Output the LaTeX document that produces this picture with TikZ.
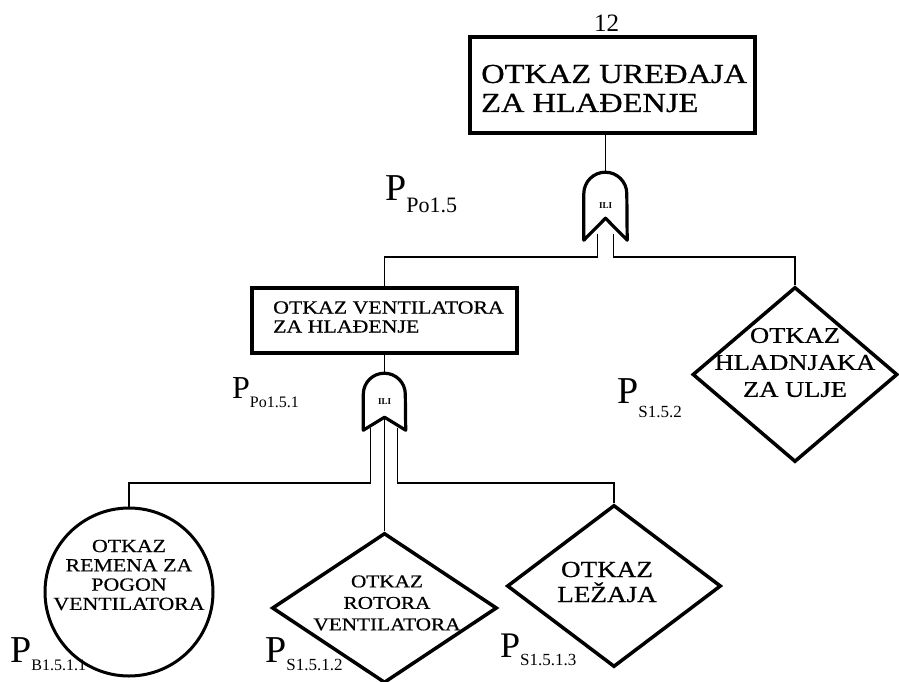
\documentclass[tikz,border=0pt]{standalone}
\usepackage{fontspec}
\setmainfont{Liberation Serif}
\newfontfamily\ftwide[FakeStretch=1.18,FakeBold=0.6]{Liberation Serif}
\usetikzlibrary{shapes.geometric,calc}
\tikzset{
  ftevent/.style={draw,line width=3.5pt,rectangle,inner sep=0pt},
  ftundev/.style={draw,line width=3.5pt,diamond,inner sep=0pt},
  ftbasic/.style={draw,line width=3pt,circle,inner sep=0pt},
  ftgate/.style={inner sep=0pt,font=\fontsize{9}{9}\selectfont\bfseries},
  ftgateline/.style={line width=3.2pt,line join=round},
  ftwire/.style={line width=1.3pt},
  fttext/.style={inner sep=0pt,align=center,font=\ftwide},
  ftprob/.style={inner sep=0pt,anchor=base west}
}
\newcommand{\ftsize}[2]{\fontsize{#1}{#2}\selectfont}
\newcommand{\ftprobtext}[4]{{\fontsize{#1}{#1}\selectfont P}\raisebox{-#3pt}{\fontsize{#2}{#2}\selectfont #4}}
% gate outline: node, straight side, arc radius, notch depth
\newcommand{\ftiligate}[4]{%
  \draw[ftgateline] (#1.south west) -- ++(0pt,#2)
    arc[start angle=180,end angle=0,radius=#3]
    -- (#1.south east) -- ([yshift=#4]#1.south) -- cycle;}
\begin{document}
\begin{tikzpicture}[x=1pt,y=1pt]
  \useasboundingbox (0,0) rectangle (899,-682);
  % top event
  \node[ftevent,minimum width=285,minimum height=96] (uredjaj) at (612.5,-85) {};
  \node[fttext,anchor=west,align=left,font=\ftwide\ftsize{27.5}{29}] (uredjajtxt) at (481,-88.5) {OTKAZ UREĐAJA\\ZA HLAĐENJE};
  \node[inner sep=0pt,anchor=base,font=\ftsize{25}{25}] (broj) at (606.5,-32) {12};
  % first ILI gate
  \node[ftgate,minimum width=43,minimum height=68] (ili1) at (605.5,-206) {ILI};
  \ftiligate{ili1}{46.5pt}{21.5pt}{22}
  \draw[ftwire] (uredjaj.south -| ili1.north) -- (ili1.north);
  \node[ftprob] (ppo15) at (385,-200) {\ftprobtext{38}{22}{12}{Po1.5}};
  % second level
  \node[ftevent,minimum width=265,minimum height=65] (ventilator) at (384.5,-320.5) {};
  \node[fttext,anchor=west,align=left,font=\ftwide\ftsize{18.5}{19}] (ventilatortxt) at (273,-317) {OTKAZ VENTILATORA\\ZA HLAĐENJE};
  \node[ftundev,minimum width=205,minimum height=175] (hladnjak) at (795,-374.5) {};
  \node[fttext,font=\ftwide\ftsize{22.5}{27}] (hladnjaktxt) at (795,-362.5) {OTKAZ\\HLADNJAKA\\ZA ULJE};
  \node[ftprob] (ps152) at (617,-403) {\ftprobtext{38}{17}{14}{S1.5.2}};
  \coordinate (j1) at (0,-257);
  \draw[ftwire] ([xshift=-8pt,yshift=6pt]ili1.south) |- (j1 -| ventilator.north) -- (ventilator.north);
  \draw[ftwire] ([xshift=8pt,yshift=6pt]ili1.south) |- (j1 -| hladnjak.north) -- (hladnjak.north);
  % second ILI gate
  \node[ftgate,minimum width=42,minimum height=57] (ili2) at (384.5,-401.5) {ILI};
  \ftiligate{ili2}{36pt}{21pt}{13}
  \draw[ftwire] (ventilator.south) -- (ili2.north);
  \node[ftprob] (ppo151) at (232,-398) {\ftprobtext{32}{16}{9}{Po1.5.1}};
  % bottom events
  \node[ftbasic,minimum size=168] (remen) at (129,-592) {};
  \node[fttext,font=\ftwide\ftsize{18.5}{19.3}] (rementxt) at (129,-575) {OTKAZ\\REMENA ZA\\POGON\\VENTILATORA};
  \node[ftundev,minimum width=225,minimum height=150] (rotor) at (384.5,-608) {};
  \node[fttext,font=\ftwide\ftsize{18}{21.5}] (rotortxt) at (387,-603) {OTKAZ\\ROTORA\\VENTILATORA};
  \node[ftundev,minimum width=214,minimum height=162] (lezaj) at (614,-586) {};
  \node[fttext,font=\ftwide\ftsize{23}{25}] (lezajtxt) at (607,-582) {OTKAZ\\LEŽAJA};
  \coordinate (j2) at (0,-483);
  \draw[ftwire] ([xshift=-14pt,yshift=2pt]ili2.south) |- (j2 -| remen.north) -- (remen.north);
  \draw[ftwire] ([yshift=13pt]ili2.south) -- (rotor.north);
  \draw[ftwire] ([xshift=13pt,yshift=2pt]ili2.south) |- (j2 -| lezaj.north) -- (lezaj.north);
  \node[ftprob] (pb1511) at (10,-662) {\ftprobtext{38}{16}{8}{B1.5.1.1}};
  \node[ftprob] (ps1512) at (265,-662) {\ftprobtext{38}{17}{8}{S1.5.1.2}};
  \node[ftprob] (ps1513) at (500,-657) {\ftprobtext{36}{17}{8}{S1.5.1.3}};
\end{tikzpicture}
\end{document}
